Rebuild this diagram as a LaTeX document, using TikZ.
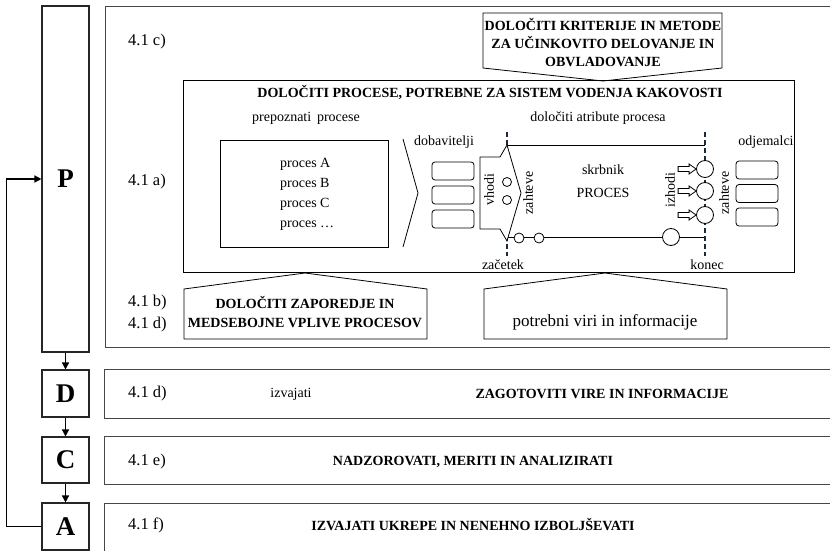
\documentclass[tikz,border=0pt]{standalone}
\usepackage{fontspec}
\setmainfont{Liberation Serif}
\usetikzlibrary{arrows.meta,calc}
\definecolor{phasecol}{RGB}{30,40,62}
\definecolor{framecol}{RGB}{70,70,70}
\begin{document}
\begin{tikzpicture}[x=1pt,y=-1pt,
  frame/.style={draw=framecol,line width=1.1pt,inner sep=0pt,anchor=north west},
  pdca/.style={draw=black!85,line width=1.1pt,minimum width=47pt,inner sep=0pt,
    font=\fontsize{27}{30}\selectfont\bfseries},
  thinbox/.style={draw=black,line width=0.8pt,inner sep=0pt},
  txt/.style={font=\fontsize{14}{20}\selectfont,inner sep=0pt},
  bold/.style={font=\fontsize{14}{18}\selectfont\bfseries,inner sep=0pt},
  ref/.style={font=\fontsize{16.5}{18}\selectfont,inner sep=0pt,anchor=west},
  flow/.style={line width=1.4pt,-{Triangle[length=7pt,width=7pt]}},
  phase/.style={line width=2.2pt,dash pattern=on 5pt off 3pt,draw=phasecol},
  party/.style={draw=black,line width=0.8pt,rounded corners=3pt,minimum width=42pt,
    minimum height=18pt,inner sep=0pt},
  port/.style={circle,draw=black,line width=0.8pt,fill=white,inner sep=0pt},
  vtext/.style={txt,rotate=90}
]
\clip (0,0) rectangle (830,551);

% PDCA column
\node[pdca,minimum height=346pt] (P) at (65.5,179) {P};
\node[pdca,minimum height=47pt] (D) at (65.5,393.5) {D};
\node[pdca,minimum height=46pt] (C) at (65.5,460) {C};
\node[pdca,minimum height=47pt] (A) at (65.5,526.5) {A};
\draw[flow] (P) -- (D);
\draw[flow] (D) -- (C);
\draw[flow] (C) -- (A);
\draw[flow] (A.west) -- ++(-35,0) |- (P.west);

% row frames (open to the right)
\node[frame,minimum width=740pt,minimum height=341pt] (planrow) at (105,6) {};
\node[frame,minimum width=740pt,minimum height=49pt] (dorow) at (104,369) {};
\node[frame,minimum width=740pt,minimum height=48pt] (checkrow) at (104,436) {};
\node[frame,minimum width=740pt,minimum height=48pt] (actrow) at (104,503) {};

% clause references
\node[ref] (r41c) at (128,42) {4.1 c)};
\node[ref] (r41a) at (128,182) {4.1 a)};
\node[ref] (r41b) at (128,303) {4.1 b)};
\node[ref] (r41d) at (128,325) {4.1 d)};
\node[ref] (r41dd) at (128,394) {4.1 d)};
\node[ref] (r41e) at (128,462) {4.1 e)};
\node[ref] (r41f) at (128,525) {4.1 f)};

% row texts
\node[txt] (izv) at (291,394) {izvajati};
\node[bold] (zag) at (602,394) {ZAGOTOVITI VIRE IN INFORMACIJE};
\node[bold] (nadz) at (473,462) {NADZOROVATI, MERITI IN ANALIZIRATI};
\node[bold] (ukr) at (473,525) {IZVAJATI UKREPE IN NENEHNO IZBOLJŠEVATI};

% main process box
\node[thinbox,anchor=north west,minimum width=611pt,minimum height=192pt] (procbox) at (183,80) {};
\node[bold] (title) at (490,93) {DOLOČITI PROCESE, POTREBNE ZA SISTEM VODENJA KAKOVOSTI};

% top callout
\draw[thinbox] (483,13) -- (722,13) -- (722,68) -- (603,81) -- (483,68) -- cycle;
\node[bold,align=center] (crit) at (603,43) {DOLOČITI KRITERIJE IN METODE\\ZA UČINKOVITO DELOVANJE IN\\OBVLADOVANJE};

% bottom callouts
\draw[thinbox] (184,339) -- (184,289) -- (305,273) -- (427,289) -- (427,339) -- cycle;
\node[bold,align=center,font=\fontsize{14}{19}\selectfont\bfseries] (seq) at (305,312.5) {DOLOČITI ZAPOREDJE IN\\MEDSEBOJNE VPLIVE PROCESOV};
\draw[thinbox] (484,339) -- (484,289) -- (605,273) -- (727,289) -- (727,339) -- cycle;
\node[txt,font=\fontsize{17}{20}\selectfont] (viri) at (605,322) {potrebni viri in informacije};

% process list
\node[txt] (prep) at (306,118) {prepoznati\, procese};
\node[thinbox,anchor=north west,minimum width=168pt,minimum height=107pt] (list) at (220,140) {};
\node[txt,align=left,anchor=west] (items) at (280,194) {proces A\\proces B\\proces C\\proces …};
\draw[line width=0.8pt] (403,139) -- (418,193) -- (403,247);

% suppliers and customers
\node[txt] (dob) at (444,142) {dobavitelji};
\foreach \y [count=\i] in {171,195,219}
  \node[party] (sup\i) at (453,\y) {};
\node[txt] (odj) at (766,142) {odjemalci};
\foreach \y [count=\i] in {170,193.5,217}
  \node[party] (cus\i) at (757,\y) {};

% process attributes
\node[txt] (attr) at (598,118) {določiti atribute procesa};
\coordinate (s1) at (507,132); \coordinate (s2) at (507,256);
\coordinate (e1) at (705,132); \coordinate (e2) at (705,256);
\coordinate (tl) at (507,145); \coordinate (tr) at (705,145);
\coordinate (bl) at (507,237); \coordinate (br) at (705,237);
\draw[line width=0.8pt] (tl) -- (tr);
\draw[line width=0.8pt] (bl) -- (br);
\draw[phase] (s1) -- (s2);
\draw[phase] (e1) -- (e2);

% input arrow
\draw[line width=0.8pt,fill=white] (480,157) -- (500,157) -- (507,145) -- (521,193)
  -- (507,241) -- (500,229) -- (480,229) -- cycle;
\node[vtext] (vhodi) at (489,190) {vhodi};
\node[port,minimum size=9pt] (in1) at (507,182) {};
\node[port,minimum size=9pt] (in2) at (507,200) {};
\node[vtext] (zah1) at (528,193) {zahteve};

\node[port,minimum size=10pt] (b1) at (519,238) {};
\node[port,minimum size=10pt] (b2) at (539,238) {};
\node[port,minimum size=17pt] (b3) at (671,237) {};

\node[txt] (skrb) at (603,170) {skrbnik};
\node[txt] (proc) at (603,193) {PROCES};

% outputs
\node[vtext] (izh) at (670,190) {izhodi};
\foreach \y [count=\i] in {169,191,215}{
  \node[port,minimum size=17pt] (out\i) at (705,\y) {};
  \draw[line width=0.8pt,fill=white] ($(out\i.west)+(-18,-2.5)$) -- ++(11,0) -- ++(0,-2.5)
    -- ($(out\i.west)$) -- ++(-7,5) -- ++(0,-2.5) -- ++(-11,0) -- cycle;
}
\node[vtext] (zah2) at (724,193) {zahteve};

\node[txt] (zac) at (503,265) {začetek};
\node[txt] (kon) at (707,265) {konec};
\end{tikzpicture}
\end{document}
